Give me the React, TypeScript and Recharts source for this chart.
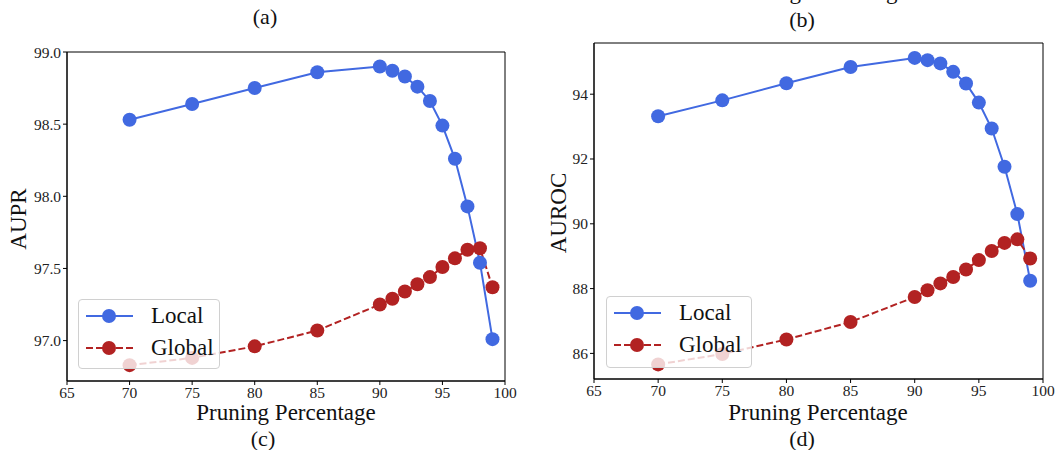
import React from 'react';
import { LineChart, Line, XAxis, YAxis, Legend, ReferenceArea } from 'recharts';

const pruning = [70, 75, 80, 85, 90, 91, 92, 93, 94, 95, 96, 97, 98, 99];
const auprLocal = [98.53, 98.64, 98.75, 98.86, 98.9, 98.87, 98.83, 98.76, 98.66, 98.49, 98.26, 97.93, 97.54, 97.01];
const auprGlobal = [96.83, 96.88, 96.96, 97.07, 97.25, 97.29, 97.34, 97.39, 97.44, 97.51, 97.57, 97.63, 97.64, 97.37];
const aurocLocal = [93.32, 93.81, 94.34, 94.84, 95.12, 95.05, 94.95, 94.69, 94.33, 93.74, 92.94, 91.76, 90.3, 88.24];
const aurocGlobal = [85.66, 85.98, 86.43, 86.97, 87.74, 87.95, 88.16, 88.36, 88.59, 88.88, 89.16, 89.41, 89.52, 88.93];

const xTicks = [65, 70, 75, 80, 85, 90, 95, 100];
const auprTicks = [97.0, 97.5, 98.0, 98.5, 99.0];
const aurocTicks = [86, 88, 90, 92, 94];

const BLUE = '#4169e1';
const RED = '#b22222';
const FONT = '"Liberation Serif", "DejaVu Serif", serif';

function LegendBox() {
  const rows = [
    { name: 'Local', color: BLUE, dash: undefined },
    { name: 'Global', color: RED, dash: '7 3' },
  ];
  return (
    <div style={{ width: '100%', height: '100%', boxSizing: 'border-box', border: '1px solid #d0d0d0', borderRadius: 4, background: 'rgba(255,255,255,0.8)' }}>
      {rows.map((r, i) => (
        <div key={r.name} style={{ position: 'absolute', left: 0, top: 6 + i * 32, height: 22, display: 'flex', alignItems: 'center' }}>
          <svg width={66} height={22}>
            <line x1={8} x2={55} y1={11} y2={11} stroke={r.color} strokeWidth={2} strokeDasharray={r.dash} />
            <circle cx={31} cy={11} r={7} fill={r.color} />
          </svg>
          <span style={{ fontFamily: FONT, fontSize: 23, color: '#111', marginLeft: 7 }}>{r.name}</span>
        </div>
      ))}
    </div>
  );
}

interface PanelProps {
  left: number;
  width: number;
  local: number[];
  global: number[];
  domain: [number, number];
  ticks: number[];
  fmt: (v: number) => string;
  yWidth: number;
  margin: { top: number; right: number; bottom: number; left: number };
  legendPos: { left: number; top: number; width: number; height: number };
}

function Panel({ left, width, local, global, domain, ticks, fmt, yWidth, margin, legendPos }: PanelProps) {
  const rows = pruning.map((x, i) => ({ x, local: local[i], global: global[i] }));
  const tickStyle = { fontFamily: FONT, fontSize: 15.5, fill: '#222' };
  return (
    <div style={{ position: 'absolute', left, top: 0 }}>
      <LineChart width={width} height={450} data={rows} margin={margin}>
        <XAxis
          type="number"
          dataKey="x"
          domain={[65, 100]}
          ticks={xTicks}
          height={30}
          tick={tickStyle}
          tickSize={4}
          tickLine={{ stroke: '#000' }}
          axisLine={{ stroke: '#000' }}
          allowDataOverflow
        />
        <YAxis
          type="number"
          domain={domain}
          ticks={ticks}
          width={yWidth}
          tick={tickStyle}
          tickFormatter={fmt}
          tickSize={4}
          tickLine={{ stroke: '#000' }}
          axisLine={{ stroke: '#000' }}
          allowDataOverflow
        />
        <ReferenceArea x1={65} x2={100} y1={domain[0]} y2={domain[1]} fill="none" stroke="#000" strokeWidth={1} ifOverflow="visible" />
        <Line dataKey="local" stroke={BLUE} strokeWidth={2} dot={{ r: 7, fill: BLUE, stroke: 'none' }} activeDot={false} isAnimationActive={false} />
        <Line dataKey="global" stroke={RED} strokeWidth={2} strokeDasharray="7 3" dot={{ r: 7, fill: RED, stroke: 'none', strokeDasharray: '' }} activeDot={false} isAnimationActive={false} />
        <Legend
          layout="horizontal"
          verticalAlign="middle"
          content={() => <LegendBox />}
          wrapperStyle={{ ...legendPos, position: 'absolute' }}
        />
      </LineChart>
    </div>
  );
}

const textBase: React.CSSProperties = { position: 'absolute', fontFamily: FONT, color: '#111', whiteSpace: 'nowrap', lineHeight: 1 };

function Caption({ x, y, size, children, rotate }: { x: number; y: number; size: number; children: React.ReactNode; rotate?: boolean }) {
  return (
    <div style={{ ...textBase, left: x, top: y, fontSize: size, transform: `translate(-50%, -50%)${rotate ? ' rotate(-90deg)' : ''}` }}>
      {children}
    </div>
  );
}

export default function App() {
  return (
    <div style={{ position: 'absolute', left: 0, top: 0, width: 1055, height: 450, background: '#fff', overflow: 'hidden' }}>
      <Panel
        left={0}
        width={530}
        local={auprLocal}
        global={auprGlobal}
        domain={[96.72, 99.0]}
        ticks={auprTicks}
        fmt={(v) => v.toFixed(1)}
        yWidth={67}
        margin={{ top: 52, right: 25, bottom: 39, left: 0 }}
        legendPos={{ left: 78, top: 299, width: 142, height: 70 }}
      />
      <Panel
        left={530}
        width={525}
        local={aurocLocal}
        global={aurocGlobal}
        domain={[85.21, 95.58]}
        ticks={aurocTicks}
        fmt={(v) => String(v)}
        yWidth={64}
        margin={{ top: 43, right: 12, bottom: 41, left: 0 }}
        legendPos={{ left: 76, top: 296, width: 146, height: 72 }}
      />
      <Caption x={265} y={17} size={22}>(a)</Caption>
      <Caption x={802} y={20} size={22}>(b)</Caption>
      <Caption x={818} y={-9} size={23}>Pruning Percentage</Caption>
      <Caption x={286} y={412} size={23}>Pruning Percentage</Caption>
      <Caption x={818} y={412} size={23}>Pruning Percentage</Caption>
      <Caption x={263} y={439} size={22}>(c)</Caption>
      <Caption x={802} y={439} size={22}>(d)</Caption>
      <Caption x={18} y={219} size={23} rotate>AUPR</Caption>
      <Caption x={558} y={213} size={23} rotate>AUROC</Caption>
    </div>
  );
}
